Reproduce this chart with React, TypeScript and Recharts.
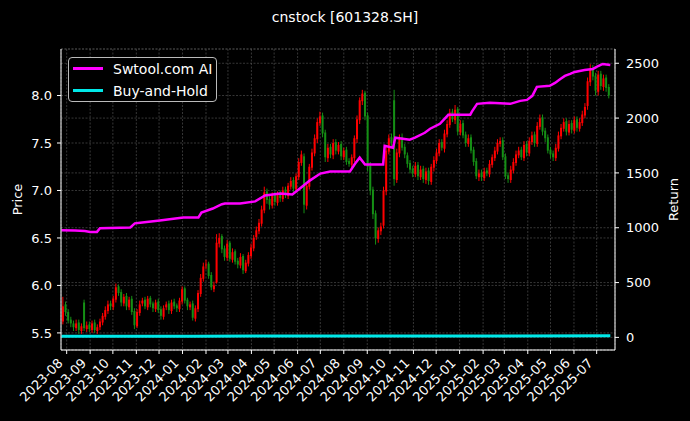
import React from 'react'
import {
  ComposedChart,
  Bar,
  Line,
  XAxis,
  YAxis,
  CartesianGrid,
  Legend,
} from 'recharts'

const BASE = Date.UTC(2023, 7, 1)
const DAY = 86400000
const dayOf = (s: string) =>
  (Date.UTC(+s.slice(0, 4), +s.slice(5, 7) - 1, s.length > 7 ? +s.slice(8, 10) : 1) - BASE) / DAY

const monthTicks = [
  '2023-08', '2023-09', '2023-10', '2023-11', '2023-12', '2024-01', '2024-02', '2024-03',
  '2024-04', '2024-05', '2024-06', '2024-07', '2024-08', '2024-09', '2024-10', '2024-11',
  '2024-12', '2025-01', '2025-02', '2025-03', '2025-04', '2025-05', '2025-06', '2025-07',
]
const priceTicks = [5.5, 6.0, 6.5, 7.0, 7.5, 8.0]
const returnTicks = [0, 500, 1000, 1500, 2000, 2500]
const seriesNames = ['Swtool.com AI', 'Buy-and-Hold']

// price candles, two per week starting here
const candleStart = '2023-07-27'
const candleStepDays = 3.5

const opens = [
  5.62, 5.80, 5.72, 5.64, 5.60, 5.55, 5.61, 5.52, 5.82, 5.54,
  5.59, 5.53, 5.61, 5.52, 5.56, 5.61, 5.67, 5.73, 5.81, 5.77,
  5.85, 5.99, 5.93, 5.81, 5.89, 5.77, 5.86, 5.73, 5.57, 5.71,
  5.81, 5.85, 5.77, 5.87, 5.81, 5.75, 5.83, 5.75, 5.67, 5.77,
  5.81, 5.73, 5.83, 5.79, 5.75, 5.83, 5.97, 5.85, 5.77, 5.81,
  5.65, 5.75, 5.91, 6.07, 6.21, 6.23, 6.11, 5.96, 6.03, 6.44,
  6.52, 6.39, 6.29, 6.45, 6.27, 6.36, 6.26, 6.21, 6.31, 6.15,
  6.23, 6.31, 6.39, 6.51, 6.57, 6.65, 6.79, 6.99, 6.91, 6.84,
  6.96, 6.87, 6.97, 6.91, 7.01, 6.94, 7.04, 7.11, 7.01, 7.14,
  7.29, 7.36, 6.84, 7.04, 7.24, 7.39, 7.54, 7.71, 7.79, 7.61,
  7.34, 7.46, 7.37, 7.51, 7.41, 7.49, 7.35, 7.43, 7.31, 7.27,
  7.34, 7.54, 7.74, 7.94, 8.03, 7.79, 7.26, 7.01, 6.76, 6.49,
  6.57, 6.63, 6.99, 7.41, 7.56, 7.95, 7.11, 7.39, 7.56, 7.46,
  7.37, 7.29, 7.23, 7.17, 7.27, 7.14, 7.23, 7.11, 7.21, 7.09,
  7.24, 7.31, 7.39, 7.51, 7.44, 7.59, 7.69, 7.83, 7.74, 7.86,
  7.61, 7.71, 7.59, 7.49, 7.56, 7.43, 7.31, 7.14, 7.19, 7.13,
  7.21, 7.17, 7.27, 7.34, 7.41, 7.49, 7.53, 7.36, 7.16, 7.11,
  7.21, 7.29, 7.37, 7.43, 7.34, 7.49, 7.39, 7.51, 7.59, 7.49,
  7.67, 7.77, 7.63, 7.56, 7.43, 7.39, 7.34, 7.44, 7.57, 7.65,
  7.73, 7.61, 7.71, 7.63, 7.75, 7.65, 7.71, 7.79, 7.89, 8.14,
  8.29, 8.21, 8.04, 8.23, 8.09, 8.19, 8.09,
]
const highs = [
  5.88, 5.83, 5.75, 5.67, 5.63, 5.64, 5.64, 5.60, 5.85, 5.62,
  5.62, 5.63, 5.64, 5.59, 5.65, 5.71, 5.78, 5.84, 5.84, 5.89,
  6.02, 6.01, 5.96, 5.91, 5.92, 5.88, 5.89, 5.76, 5.75, 5.84,
  5.87, 5.88, 5.89, 5.89, 5.83, 5.85, 5.86, 5.78, 5.79, 5.83,
  5.84, 5.85, 5.86, 5.81, 5.87, 5.99, 5.99, 5.87, 5.83, 5.84,
  5.79, 5.95, 6.12, 6.24, 6.27, 6.25, 6.14, 6.04, 6.54, 6.55,
  6.54, 6.42, 6.48, 6.47, 6.39, 6.38, 6.29, 6.34, 6.33, 6.27,
  6.35, 6.44, 6.53, 6.62, 6.70, 6.84, 7.04, 7.02, 6.94, 6.98,
  6.99, 6.99, 7.00, 7.04, 7.04, 7.08, 7.14, 7.14, 7.18, 7.34,
  7.42, 7.39, 7.08, 7.28, 7.44, 7.59, 7.76, 7.83, 7.82, 7.64,
  7.49, 7.49, 7.54, 7.54, 7.51, 7.52, 7.45, 7.46, 7.34, 7.38,
  7.58, 7.79, 7.98, 8.06, 8.05, 7.82, 7.30, 7.04, 6.79, 6.61,
  6.66, 7.04, 7.46, 7.59, 7.60, 8.06, 7.44, 7.59, 7.60, 7.49,
  7.40, 7.32, 7.26, 7.30, 7.30, 7.26, 7.26, 7.24, 7.24, 7.28,
  7.36, 7.44, 7.54, 7.54, 7.64, 7.74, 7.86, 7.86, 7.90, 7.88,
  7.74, 7.74, 7.62, 7.59, 7.59, 7.46, 7.34, 7.22, 7.22, 7.24,
  7.24, 7.32, 7.38, 7.46, 7.54, 7.56, 7.56, 7.39, 7.19, 7.26,
  7.34, 7.42, 7.46, 7.46, 7.52, 7.52, 7.56, 7.62, 7.62, 7.72,
  7.80, 7.80, 7.66, 7.59, 7.46, 7.42, 7.49, 7.62, 7.70, 7.76,
  7.76, 7.74, 7.74, 7.78, 7.78, 7.76, 7.84, 7.92, 8.19, 8.33,
  8.32, 8.24, 8.26, 8.26, 8.22, 8.22, 8.12,
]
const lows = [
  5.59, 5.68, 5.60, 5.56, 5.52, 5.52, 5.49, 5.49, 5.52, 5.51,
  5.51, 5.50, 5.50, 5.49, 5.53, 5.58, 5.64, 5.70, 5.74, 5.74,
  5.82, 5.89, 5.78, 5.78, 5.74, 5.74, 5.69, 5.54, 5.55, 5.68,
  5.78, 5.75, 5.74, 5.77, 5.72, 5.72, 5.71, 5.64, 5.64, 5.74,
  5.70, 5.70, 5.75, 5.72, 5.72, 5.80, 5.81, 5.74, 5.74, 5.63,
  5.62, 5.72, 5.88, 6.04, 6.17, 6.07, 5.95, 5.93, 6.02, 6.40,
  6.34, 6.26, 6.26, 6.25, 6.24, 6.22, 6.18, 6.18, 6.12, 6.13,
  6.20, 6.28, 6.36, 6.48, 6.54, 6.62, 6.76, 6.86, 6.80, 6.81,
  6.84, 6.84, 6.88, 6.88, 6.92, 6.91, 7.01, 6.98, 6.98, 7.11,
  7.26, 6.76, 6.80, 7.01, 7.21, 7.36, 7.50, 7.68, 7.56, 7.30,
  7.30, 7.34, 7.33, 7.38, 7.38, 7.32, 7.32, 7.27, 7.25, 7.24,
  7.30, 7.50, 7.70, 7.90, 7.74, 7.20, 6.95, 6.70, 6.43, 6.45,
  6.53, 6.60, 6.95, 7.38, 7.46, 7.05, 7.08, 7.35, 7.42, 7.34,
  7.24, 7.18, 7.14, 7.14, 7.11, 7.11, 7.08, 7.07, 7.06, 7.06,
  7.20, 7.28, 7.36, 7.42, 7.40, 7.56, 7.66, 7.72, 7.70, 7.58,
  7.58, 7.55, 7.46, 7.46, 7.39, 7.26, 7.12, 7.10, 7.10, 7.10,
  7.15, 7.14, 7.24, 7.31, 7.38, 7.46, 7.32, 7.12, 7.08, 7.08,
  7.18, 7.26, 7.34, 7.32, 7.31, 7.36, 7.36, 7.48, 7.46, 7.46,
  7.64, 7.58, 7.51, 7.39, 7.34, 7.31, 7.31, 7.41, 7.54, 7.62,
  7.58, 7.58, 7.60, 7.60, 7.62, 7.62, 7.68, 7.76, 7.85, 8.10,
  8.16, 8.00, 8.00, 8.06, 8.05, 8.04, 7.97,
]
const closes = [
  5.78, 5.72, 5.63, 5.60, 5.56, 5.60, 5.53, 5.57, 5.55, 5.58,
  5.54, 5.60, 5.53, 5.56, 5.62, 5.68, 5.74, 5.80, 5.78, 5.86,
  5.98, 5.92, 5.82, 5.88, 5.78, 5.85, 5.72, 5.58, 5.72, 5.80,
  5.84, 5.78, 5.86, 5.80, 5.76, 5.82, 5.74, 5.68, 5.76, 5.80,
  5.74, 5.82, 5.78, 5.76, 5.84, 5.96, 5.84, 5.78, 5.80, 5.66,
  5.76, 5.92, 6.08, 6.20, 6.22, 6.10, 5.98, 6.00, 6.45, 6.50,
  6.38, 6.30, 6.44, 6.28, 6.35, 6.25, 6.22, 6.30, 6.16, 6.24,
  6.32, 6.40, 6.50, 6.58, 6.66, 6.80, 6.98, 6.90, 6.85, 6.95,
  6.88, 6.96, 6.92, 7.00, 6.95, 7.05, 7.10, 7.02, 7.15, 7.30,
  7.38, 6.85, 7.05, 7.25, 7.40, 7.55, 7.72, 7.78, 7.60, 7.35,
  7.45, 7.38, 7.50, 7.42, 7.48, 7.36, 7.42, 7.30, 7.28, 7.35,
  7.55, 7.75, 7.95, 8.02, 7.78, 7.25, 7.00, 6.75, 6.50, 6.58,
  6.62, 7.00, 7.42, 7.55, 7.50, 7.12, 7.40, 7.55, 7.45, 7.38,
  7.28, 7.22, 7.18, 7.26, 7.15, 7.22, 7.12, 7.20, 7.10, 7.25,
  7.32, 7.40, 7.50, 7.45, 7.60, 7.70, 7.82, 7.75, 7.85, 7.62,
  7.70, 7.58, 7.50, 7.55, 7.42, 7.30, 7.15, 7.18, 7.14, 7.20,
  7.18, 7.28, 7.35, 7.42, 7.50, 7.52, 7.35, 7.15, 7.12, 7.22,
  7.30, 7.38, 7.42, 7.35, 7.48, 7.40, 7.52, 7.58, 7.50, 7.68,
  7.76, 7.62, 7.55, 7.42, 7.38, 7.35, 7.45, 7.58, 7.66, 7.72,
  7.62, 7.70, 7.64, 7.74, 7.66, 7.72, 7.80, 7.88, 8.15, 8.28,
  8.20, 8.05, 8.22, 8.10, 8.18, 8.08, 8.00,
]

// strategy cumulative return
const strategyDates = [
  '2023-07-25', '2023-08-12', '2023-08-25', '2023-09-01', '2023-09-10', '2023-09-14',
  '2023-10-24', '2023-10-30', '2023-11-06', '2023-12-02', '2024-01-02', '2024-01-22',
  '2024-01-26', '2024-02-10', '2024-02-22', '2024-02-26', '2024-03-17', '2024-04-06',
  '2024-04-19', '2024-05-09', '2024-05-25', '2024-06-04', '2024-06-17', '2024-07-01',
  '2024-07-14', '2024-08-09', '2024-08-16', '2024-08-22', '2024-08-29', '2024-09-22',
  '2024-09-24', '2024-10-05', '2024-10-08', '2024-10-27', '2024-11-03', '2024-11-16',
  '2024-11-23', '2024-12-06', '2024-12-17', '2025-01-15', '2025-01-17', '2025-01-24',
  '2025-02-10', '2025-03-09', '2025-03-22', '2025-03-31', '2025-04-07', '2025-04-13',
  '2025-04-30', '2025-05-07', '2025-05-14', '2025-05-20', '2025-05-27', '2025-06-02',
  '2025-06-15', '2025-06-26', '2025-07-03', '2025-07-09', '2025-07-19',
]
const strategyReturns = [
  978, 975, 970, 962, 962, 995,
  1003, 1040, 1045, 1066, 1094, 1094,
  1139, 1175, 1215, 1221, 1221, 1240,
  1294, 1312, 1303, 1357, 1430, 1494,
  1512, 1512, 1585, 1639, 1576, 1576,
  1748, 1730, 1821, 1803, 1821, 1866,
  1903, 1948, 2030, 2030, 2057, 2130,
  2139, 2130, 2157, 2166, 2203, 2285,
  2294, 2321, 2357, 2385, 2403, 2421,
  2439, 2448, 2475, 2494, 2485,
]

const buyHoldDates = ['2023-07-25', '2024-01-15', '2024-07-15', '2025-01-15', '2025-07-19']
const buyHoldReturns = [10, 11, 13, 12, 14]

const UP = '#ff0000'
const DOWN = '#158f15'
const MAGENTA = '#ff00ff'
const CYAN = '#00e8e8'
const FONT = '"DejaVu Sans", sans-serif'

type Row = {
  day: number
  open?: number
  high?: number
  low?: number
  close?: number
  range?: [number, number]
  strategy?: number
  buyHold?: number
}

const rowsByDay = new Map<number, Row>()
const rowAt = (day: number) => {
  let r = rowsByDay.get(day)
  if (!r) {
    r = { day }
    rowsByDay.set(day, r)
  }
  return r
}
const firstDay = dayOf(candleStart)
closes.forEach((c, i) => {
  const r = rowAt(firstDay + i * candleStepDays)
  r.open = opens[i]
  r.high = highs[i]
  r.low = lows[i]
  r.close = c
  r.range = [lows[i], highs[i]]
})
strategyDates.forEach((d, i) => {
  rowAt(dayOf(d)).strategy = strategyReturns[i]
})
buyHoldDates.forEach((d, i) => {
  rowAt(dayOf(d)).buyHold = buyHoldReturns[i]
})
const data = Array.from(rowsByDay.values()).sort((a, b) => a.day - b.day)

const xDomain = [-7.5, 724.2]
const tickDays = monthTicks.map(dayOf)
const tickLabel = new Map(tickDays.map((d, i) => [d, monthTicks[i]]))

const Candle = (props: any) => {
  const { x, y, width, height, payload } = props
  if (!payload || payload.high == null || !Number.isFinite(y) || !Number.isFinite(height)) return null
  const { open, close, high, low } = payload
  const top = Math.min(y, y + height)
  const h = Math.abs(height)
  const span = high - low || 1
  const py = (v: number) => top + ((high - v) / span) * h
  const color = close >= open ? UP : DOWN
  const cx = x + width / 2
  const bTop = py(Math.max(open, close))
  const bBot = py(Math.min(open, close))
  return (
    <g>
      <line x1={cx} x2={cx} y1={top} y2={top + h} stroke={color} strokeWidth={1} />
      <rect x={cx - 1} y={bTop} width={2} height={Math.max(bBot - bTop, 0.8)} fill={color} />
    </g>
  )
}

const MonthTick = (p: any) => {
  const x0 = p.x - 3
  const y0 = p.y + 8
  return (
    <text
      x={x0}
      y={y0}
      transform={`rotate(-45, ${x0}, ${y0})`}
      textAnchor="end"
      fill="#fff"
      fontSize={13}
    >
      {tickLabel.get(p.payload.value) ?? ''}
    </text>
  )
}

const axisTitle = (text: string, dx: number) => (p: any) => {
  const vb = p.viewBox || {}
  const cx = vb.x + dx
  const cy = vb.y + vb.height / 2
  return (
    <text
      x={cx}
      y={cy}
      transform={`rotate(-90, ${cx}, ${cy})`}
      textAnchor="middle"
      dominantBaseline="central"
      fill="#fff"
      fontSize={13}
    >
      {text}
    </text>
  )
}

const LegendBox = () => (
  <div
    style={{
      position: 'relative',
      width: 149,
      height: 45,
      border: '1px solid #bbb',
      borderRadius: 4,
      background: '#000',
      boxSizing: 'border-box',
      fontFamily: FONT,
      fontSize: 14,
      color: '#fff',
    }}
  >
    {seriesNames.map((name, i) => (
      <div key={name} style={{ position: 'absolute', left: 0, top: i === 0 ? 1 : 23, height: 20, width: 148 }}>
        <div
          style={{
            position: 'absolute',
            left: 4,
            top: 8,
            width: 30,
            height: 2.5,
            background: i === 0 ? MAGENTA : CYAN,
          }}
        />
        <div style={{ position: 'absolute', left: 44, top: 0, lineHeight: '20px', whiteSpace: 'nowrap' }}>
          {name}
        </div>
      </div>
    ))}
  </div>
)

export default function App() {
  return (
    <div
      style={{
        position: 'fixed',
        left: 0,
        top: 0,
        width: 690,
        height: 421,
        background: '#000',
        fontFamily: FONT,
        overflow: 'hidden',
      }}
    >
      <div
        style={{
          position: 'absolute',
          left: 0,
          top: 7,
          width: 690,
          textAlign: 'center',
          color: '#fff',
          fontSize: 14,
          lineHeight: '20px',
        }}
      >
        cnstock [601328.SH]
      </div>
      <ComposedChart
        width={690}
        height={421}
        data={data}
        margin={{ top: 49, right: 0, bottom: 0, left: 0 }}
      >
        <CartesianGrid
          xAxisId="x"
          yAxisId="price"
          stroke="#5a5a5a"
          strokeWidth={0.6}
          strokeDasharray="2 1.5"
        />
        <CartesianGrid
          xAxisId="x"
          yAxisId="ret"
          vertical={false}
          stroke="#5a5a5a"
          strokeWidth={0.6}
          strokeDasharray="2 1.5"
        />
        <XAxis
          xAxisId="x"
          dataKey="day"
          type="number"
          domain={xDomain}
          allowDataOverflow
          ticks={tickDays}
          interval={0}
          height={71}
          stroke="#fff"
          tickSize={4}
          tick={<MonthTick />}
        />
        <XAxis
          xAxisId="top"
          dataKey="day"
          orientation="top"
          type="number"
          domain={xDomain}
          allowDataOverflow
          height={0}
          tick={false}
          tickLine={false}
          axisLine={{ stroke: '#fff' }}
        />
        <YAxis
          yAxisId="price"
          orientation="left"
          domain={[5.32, 8.49]}
          allowDataOverflow
          ticks={priceTicks}
          interval={0}
          tickFormatter={(v: number) => v.toFixed(1)}
          width={61}
          stroke="#fff"
          tick={{ fill: '#fff', fontSize: 13 }}
          tickSize={4}
          tickMargin={5}
          label={axisTitle('Price', 17)}
        />
        <YAxis
          yAxisId="ret"
          orientation="right"
          domain={[-115, 2630]}
          allowDataOverflow
          ticks={returnTicks}
          interval={0}
          width={75}
          stroke="#fff"
          tick={{ fill: '#fff', fontSize: 13 }}
          tickSize={4}
          tickMargin={7}
          label={axisTitle('Return', 58)}
        />
        <Legend
          layout="horizontal"
          verticalAlign="middle"
          align="center"
          wrapperStyle={{ position: 'absolute', left: 68, top: 57, width: 'auto', height: 'auto' }}
          content={() => <LegendBox />}
        />
        <Bar
          xAxisId="x"
          yAxisId="price"
          dataKey="range"
          barSize={2}
          shape={Candle}
          isAnimationActive={false}
        />
        <Line
          xAxisId="x"
          yAxisId="ret"
          type="linear"
          dataKey="buyHold"
          name={seriesNames[1]}
          stroke={CYAN}
          strokeWidth={3}
          dot={false}
          connectNulls
          isAnimationActive={false}
        />
        <Line
          xAxisId="x"
          yAxisId="ret"
          type="linear"
          dataKey="strategy"
          name={seriesNames[0]}
          stroke={MAGENTA}
          strokeWidth={2.5}
          dot={false}
          connectNulls
          isAnimationActive={false}
        />
      </ComposedChart>
    </div>
  )
}
